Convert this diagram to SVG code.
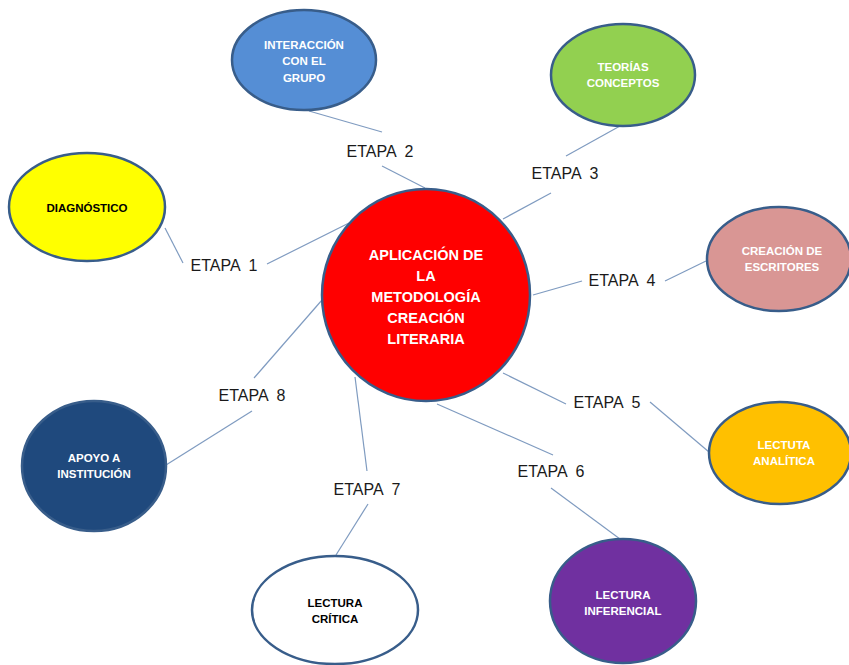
<svg xmlns="http://www.w3.org/2000/svg" width="849" height="665" viewBox="0 0 849 665">
<style>
.n{stroke:#385D8A;stroke-width:2.5}
.t{font-family:"Liberation Sans",Arial,sans-serif;font-weight:bold;font-size:11.5px;text-anchor:middle;dominant-baseline:central}
.w{fill:#ffffff}
.k{fill:#000000}
.c{font-family:"Liberation Sans",Arial,sans-serif;font-weight:bold;font-size:14.5px;text-anchor:middle;dominant-baseline:central;fill:#ffffff}
.e{font-family:"Liberation Sans",Arial,sans-serif;font-size:16px;text-anchor:middle;dominant-baseline:central;fill:#1a1a1a;white-space:pre}
#connectors line{stroke:#7F9BC0;stroke-width:1.2}
</style>
<rect width="849" height="665" fill="#ffffff"/>
<g id="connectors">
<line x1="309" y1="111" x2="382" y2="132"/>
<line x1="382" y1="166" x2="425" y2="188"/>
<line x1="165" y1="228" x2="183" y2="263"/>
<line x1="267" y1="264" x2="349" y2="223"/>
<line x1="620" y1="126" x2="566" y2="156"/>
<line x1="551" y1="193" x2="503" y2="219"/>
<line x1="533" y1="295" x2="582" y2="281"/>
<line x1="665" y1="281" x2="706" y2="261"/>
<line x1="503" y1="373" x2="566" y2="404"/>
<line x1="650" y1="402" x2="709" y2="452"/>
<line x1="437" y1="404" x2="553" y2="455"/>
<line x1="551" y1="488" x2="620" y2="539"/>
<line x1="355" y1="377" x2="367" y2="471"/>
<line x1="368" y1="504" x2="336" y2="555"/>
<line x1="322" y1="300" x2="254" y2="378"/>
<line x1="252" y1="411" x2="166" y2="465"/>
</g>
<g id="labels">
<text class="e" x="224" y="265" xml:space="preserve">ETAPA  1</text>
<text class="e" x="380" y="151" xml:space="preserve">ETAPA  2</text>
<text class="e" x="565" y="173" xml:space="preserve">ETAPA  3</text>
<text class="e" x="622" y="280" xml:space="preserve">ETAPA  4</text>
<text class="e" x="607" y="402" xml:space="preserve">ETAPA  5</text>
<text class="e" x="551" y="471" xml:space="preserve">ETAPA  6</text>
<text class="e" x="367" y="489" xml:space="preserve">ETAPA  7</text>
<text class="e" x="252" y="395" xml:space="preserve">ETAPA  8</text>
</g>
<g id="center">
<ellipse class="n" cx="426" cy="295" rx="104" ry="106" fill="#FF0000"/>
<text class="c" x="426" y="255">APLICACIÓN DE</text>
<text class="c" x="426" y="276">LA</text>
<text class="c" x="426" y="297">METODOLOGÍA</text>
<text class="c" x="426" y="318">CREACIÓN</text>
<text class="c" x="426" y="339">LITERARIA</text>
</g>
<g id="n-interaccion">
<ellipse class="n" cx="304" cy="60" rx="72" ry="50" fill="#558ED5"/>
<text class="t w" x="304" y="45">INTERACCIÓN</text>
<text class="t w" x="304" y="61">CON EL</text>
<text class="t w" x="304" y="78">GRUPO</text>
</g>
<g id="n-diagnostico">
<ellipse class="n" cx="87" cy="207" rx="78" ry="54" fill="#FFFF00"/>
<text class="t k" x="87" y="208">DIAGNÓSTICO</text>
</g>
<g id="n-teorias">
<ellipse class="n" cx="623" cy="75" rx="72" ry="51" fill="#92D050"/>
<text class="t w" x="623" y="67">TEORÍAS</text>
<text class="t w" x="623" y="83">CONCEPTOS</text>
</g>
<g id="n-creacion">
<ellipse class="n" cx="779" cy="259" rx="72" ry="52" fill="#D99694"/>
<text class="t w" x="782" y="251">CREACIÓN DE</text>
<text class="t w" x="782" y="267">ESCRITORES</text>
</g>
<g id="n-analitica">
<ellipse class="n" cx="780" cy="453" rx="71" ry="51" fill="#FFC000"/>
<text class="t w" x="784" y="445">LECTUTA</text>
<text class="t w" x="784" y="461">ANALÍTICA</text>
</g>
<g id="n-inferencial">
<ellipse class="n" cx="623" cy="601" rx="73" ry="62" fill="#7030A0"/>
<text class="t w" x="623" y="595">LECTURA</text>
<text class="t w" x="623" y="611">INFERENCIAL</text>
</g>
<g id="n-critica">
<ellipse class="n" cx="335" cy="610" rx="83" ry="54" fill="#FFFFFF"/>
<text class="t k" x="335" y="603">LECTURA</text>
<text class="t k" x="335" y="619">CRÍTICA</text>
</g>
<g id="n-apoyo">
<ellipse class="n" cx="94" cy="466" rx="72" ry="65" fill="#1F497D"/>
<text class="t w" x="94" y="458">APOYO A</text>
<text class="t w" x="94" y="474">INSTITUCIÓN</text>
</g>
</svg>
